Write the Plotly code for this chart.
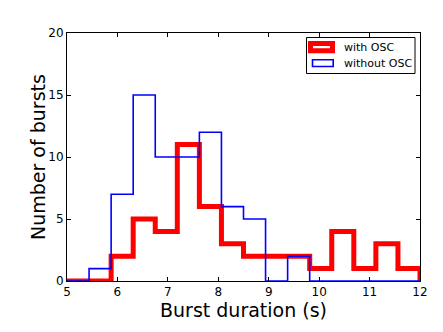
import plotly.graph_objects as go

# Histogram bins: 16 bins spanning 5 to 12 s
bin_start = 5.0
bin_width = 7.0 / 16
n_bins = 16

counts_with_osc = [0, 0, 2, 5, 4, 11, 6, 3, 2, 2, 2, 1, 4, 1, 3, 1]
counts_without_osc = [0, 1, 7, 15, 10, 10, 12, 6, 5, 0, 2, 0, 0, 0, 0, 0]

x_ticks = [5, 6, 7, 8, 9, 10, 11, 12]
y_ticks = [0, 5, 10, 15, 20]

edges = [bin_start + i * bin_width for i in range(n_bins + 1)]

# page has an 8px body margin, so margins are shifted to compensate
W, H = 443, 332
OFF = 8
L, R, T, B = 67 - OFF, 23 + OFF, 33 - OFF, 51 + OFF


def px(x):
    return (x - OFF - L) / (W - L - R)


def py(y):
    return (H - B - (y - OFF)) / (H - T - B)


def step_xy(counts):
    # outline like matplotlib histtype='step'
    return [edges[0]] + edges, [0] + counts + [0]


fig = go.Figure()

x, y = step_xy(counts_with_osc)
fig.add_trace(go.Scatter(x=x, y=y, mode="lines", line_shape="hv",
                         line=dict(color="#ff0000", width=5),
                         name="with OSC", showlegend=False))

x, y = step_xy(counts_without_osc)
fig.add_trace(go.Scatter(x=x, y=y, mode="lines", line_shape="hv",
                         line=dict(color="#0000ff", width=1.6),
                         name="without OSC", showlegend=False))

# legend drawn by hand (matplotlib style box)
shapes = [
    dict(type="rect", xref="paper", yref="paper", x0=px(306.5), x1=px(415), y0=py(37.5), y1=py(73.5),
         line=dict(color="black", width=1), fillcolor="white"),
    dict(type="rect", xref="paper", yref="paper", x0=px(310.5), x1=px(332.5), y0=py(43.5), y1=py(50.8),
         line=dict(color="#ff0000", width=5), fillcolor="white"),
    dict(type="rect", xref="paper", yref="paper", x0=px(312.5), x1=px(333.2), y0=py(59.8), y1=py(66.5),
         line=dict(color="#0000ff", width=1.6), fillcolor="white"),
]
annotations = [
    dict(text="with OSC", xref="paper", yref="paper", x=px(342), y=py(47.3), xanchor="left",
         yanchor="middle", showarrow=False, font=dict(size=11, color="black")),
    dict(text="without OSC", xref="paper", yref="paper", x=px(342), y=py(63.3), xanchor="left",
         yanchor="middle", showarrow=False, font=dict(size=11, color="black")),
    # axis titles
    dict(text="Burst duration (s)", xref="paper", yref="paper", x=0.5, y=py(310), xanchor="center",
         yanchor="middle", showarrow=False, font=dict(size=19, color="black")),
    dict(text="Number of bursts", xref="paper", yref="paper", x=px(38), y=0.5, xanchor="center",
         yanchor="middle", textangle=-90, showarrow=False, font=dict(size=19, color="black")),
]

axis_common = dict(showgrid=False, zeroline=False, showline=True, linecolor="black", linewidth=1,
                   mirror="ticks", ticks="inside", ticklen=4, tickcolor="black", automargin=False,
                   tickfont=dict(size=12, color="black"))

fig.update_layout(
    width=W, height=H,
    margin=dict(l=L, r=R, t=T, b=B),
    paper_bgcolor="white", plot_bgcolor="white",
    font=dict(family="DejaVu Sans", color="black"),
    shapes=shapes, annotations=annotations,
    xaxis=dict(range=[5, 12], tickvals=x_ticks, ticktext=[str(v) for v in x_ticks], **axis_common),
    yaxis=dict(range=[0, 20], tickvals=y_ticks, ticktext=[str(v) for v in y_ticks], **axis_common),
)

fig.write_html("out.html")
